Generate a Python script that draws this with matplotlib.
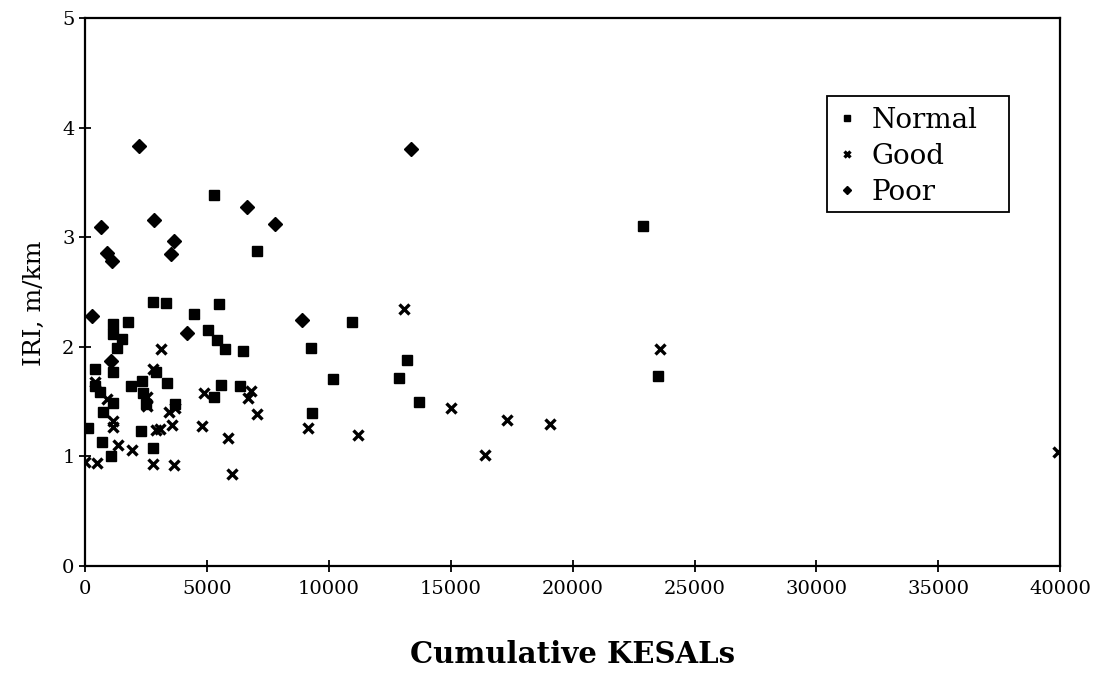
import matplotlib
matplotlib.use("Agg")
import matplotlib.pyplot as plt
from matplotlib.patches import Rectangle

normal_x = [5300, 22900, 7070, 2780, 3320, 5510, 4470, 10940, 1780, 1160, 1160, 1500, 1300,
            5060, 5420, 5760, 6500, 9260, 13220, 410, 1160, 2900, 3380, 2320, 1880, 5580,
            6360, 410, 620, 2400, 2500, 1160, 720, 3690, 5290, 135, 2290, 680, 2780, 1060,
            10190, 12880, 13680, 9300, 23520]
normal_y = [3.39, 3.10, 2.88, 2.41, 2.40, 2.39, 2.30, 2.23, 2.23, 2.21, 2.12, 2.07, 1.99,
            2.15, 2.06, 1.98, 1.96, 1.99, 1.88, 1.80, 1.77, 1.77, 1.67, 1.69, 1.64, 1.65,
            1.64, 1.64, 1.59, 1.58, 1.48, 1.49, 1.41, 1.48, 1.54, 1.26, 1.23, 1.13, 1.08, 1.00,
            1.71, 1.72, 1.50, 1.40, 1.73]

good_x = [3120, 2800, 410, 890, 1160, 1160, 1370, 1910, 0, 480, 2780, 3660, 2910, 3080,
          3560, 3460, 3700, 2530, 2560, 4900, 4800, 5880, 6030, 6800, 6680, 7040, 9160,
          11180, 13090, 15000, 16410, 17300, 19080, 23590, 39920]
good_y = [1.98, 1.80, 1.68, 1.52, 1.32, 1.27, 1.10, 1.06, 0.95, 0.94, 0.93, 0.92, 1.24, 1.25,
          1.29, 1.41, 1.44, 1.54, 1.46, 1.58, 1.28, 1.17, 0.84, 1.60, 1.53, 1.39, 1.26,
          1.20, 2.35, 1.44, 1.01, 1.33, 1.30, 1.98, 1.04]

poor_x = [2200, 13370, 660, 2830, 6660, 7800, 920, 1120, 3660, 3530, 300, 4190, 8890, 1070]
poor_y = [3.83, 3.81, 3.09, 3.16, 3.28, 3.12, 2.86, 2.78, 2.97, 2.85, 2.28, 2.13, 2.25, 1.87]

x_ticks = [0, 5000, 10000, 15000, 20000, 25000, 30000, 35000, 40000]
y_ticks = [0, 1, 2, 3, 4, 5]

plt.rcParams['font.family'] = ['DejaVu Serif']

fig = plt.figure(figsize=(11.02, 6.77), dpi=100)
ax = fig.add_axes([0.0771, 0.164, 0.885, 0.809])

ax.plot(normal_x, normal_y, linestyle='none', marker='s', markersize=7.5,
        color='black', label='Normal')
ax.plot(good_x, good_y, linestyle='none', marker='x', markersize=7,
        markeredgewidth=2.4, color='black', label='Good')
ax.plot(poor_x, poor_y, linestyle='none', marker='D', markersize=7,
        color='black', label='Poor')

ax.set_xlim(0, 40000)
ax.set_ylim(0, 5)
ax.set_xticks(x_ticks)
ax.set_xticklabels([str(t) for t in x_ticks])
ax.set_yticks(y_ticks)
ax.tick_params(axis='both', labelsize=14, direction='inout', length=8, width=1.3, colors='black')
ax.tick_params(axis='x', pad=6)
for s in ax.spines.values():
    s.set_linewidth(1.6)
    s.set_color('black')

ax.set_xlabel('Cumulative KESALs', fontsize=21, fontweight='bold', labelpad=30)
ax.set_ylabel('IRI, m/km', fontsize=18)
ax.yaxis.set_label_coords(-0.040, 0.48)

# legend box
ax.add_patch(Rectangle((0.761, 0.646), 0.186, 0.213, transform=ax.transAxes,
                       facecolor='white', edgecolor='black', linewidth=1.3, zorder=4))
leg = ax.legend(loc='upper left', bbox_to_anchor=(0.761, 0.859), fontsize=20,
                markerscale=0.65, handlelength=0.6, handletextpad=0.6,
                frameon=False, borderpad=0.4, labelspacing=0.33,
                borderaxespad=0)
leg.set_zorder(5)

fig.savefig('out.png', dpi=100)
